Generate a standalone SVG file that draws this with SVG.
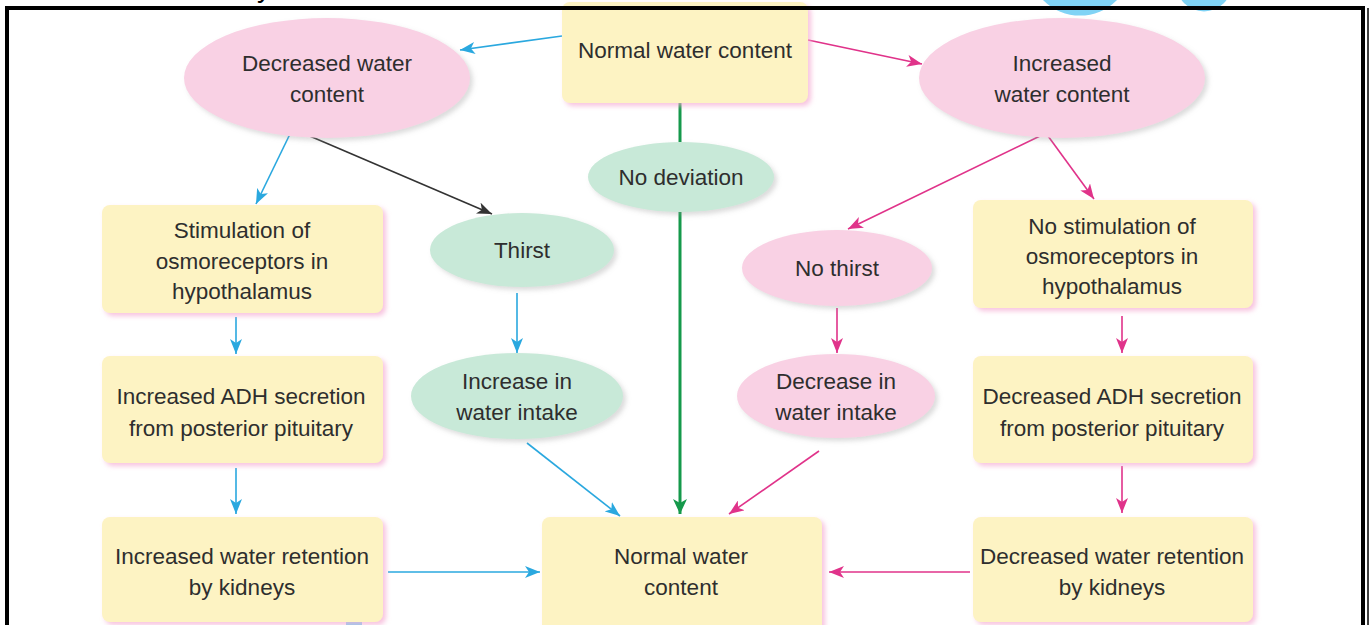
<svg xmlns="http://www.w3.org/2000/svg" width="1370" height="625" viewBox="0 0 1370 625">
<style>
.box{fill:#fdf3c3;filter:url(#ps);}
.pk{fill:#f9d1e4;filter:url(#gs);}
.gr{fill:#c8e9d8;filter:url(#gs);}
text{font-family:"Liberation Sans",Arial,sans-serif;font-size:22.5px;fill:#2e2e2e;text-anchor:middle;}
.c line,.c path{fill:none;stroke-width:1.6;}
.b{stroke:#2aa8df;marker-end:url(#ab);}
.p{stroke:#e0338a;marker-end:url(#ap);}
.k{stroke:#333;marker-end:url(#ak);}
.g{stroke:#15994b;stroke-width:3 !important;}
</style>
<defs>
<filter id="ps" x="-10%" y="-10%" width="125%" height="130%"><feDropShadow dx="3" dy="3" stdDeviation="2.5" flood-color="#f4a9d0" flood-opacity="0.7"/></filter>
<filter id="gs" x="-10%" y="-10%" width="125%" height="130%"><feDropShadow dx="3" dy="3" stdDeviation="2.5" flood-color="#999" flood-opacity="0.35"/></filter>
<marker id="ab" markerUnits="userSpaceOnUse" markerWidth="16" markerHeight="12" refX="15" refY="6" orient="auto"><path d="M0,0 L15,6 L0,12 L4,6 z" fill="#2aa8df"/></marker>
<marker id="ap" markerUnits="userSpaceOnUse" markerWidth="16" markerHeight="12" refX="15" refY="6" orient="auto"><path d="M0,0 L15,6 L0,12 L4,6 z" fill="#e0338a"/></marker>
<marker id="ak" markerUnits="userSpaceOnUse" markerWidth="16" markerHeight="12" refX="15" refY="6" orient="auto"><path d="M0,0 L15,6 L0,12 L4,6 z" fill="#333"/></marker>
<marker id="ag" markerUnits="userSpaceOnUse" markerWidth="16" markerHeight="14" refX="15" refY="7" orient="auto"><path d="M0,0 L15,7 L0,14 L4,7 z" fill="#15994b"/></marker>
</defs>
<rect width="1370" height="625" fill="#fff"/>
<g id="artifacts">
<circle cx="1080" cy="-36" r="51.6" fill="#80d3f5"/>
<circle cx="1204" cy="-16.5" r="27.9" fill="#80d3f5"/>
<text x="264" y="-3" style="font-size:28px;fill:#000">y</text>
<rect x="346" y="622" width="16" height="3" fill="#80d3f5"/>
<rect x="576" y="622" width="24" height="3" fill="#80d3f5"/>
</g>
<g class="c" id="connectors">
<line class="b" x1="562" y1="36" x2="460" y2="50"/>
<line class="p" x1="808" y1="40" x2="922" y2="64"/>
<line class="g" x1="680" y1="103" x2="680" y2="142"/>
<line class="g" x1="680" y1="212" x2="680" y2="514" marker-end="url(#ag)"/>
<line class="b" x1="290" y1="134" x2="256" y2="204"/>
<line class="k" x1="305" y1="134" x2="492" y2="214"/>
<line class="b" x1="236" y1="317" x2="236" y2="354"/>
<line class="b" x1="236" y1="468" x2="236" y2="514"/>
<line class="b" x1="517" y1="293" x2="517" y2="353"/>
<line class="b" x1="527" y1="443" x2="620" y2="516"/>
<line class="b" x1="388" y1="572" x2="540" y2="572"/>
<line class="p" x1="1040" y1="136" x2="848" y2="229"/>
<line class="p" x1="1048" y1="136" x2="1094" y2="199"/>
<line class="p" x1="837" y1="308" x2="837" y2="353"/>
<line class="p" x1="819" y1="451" x2="729" y2="514"/>
<line class="p" x1="1122" y1="316" x2="1122" y2="353"/>
<line class="p" x1="1122" y1="466" x2="1122" y2="513"/>
<line class="p" x1="970" y1="572" x2="829" y2="572"/>
</g>
<g id="n-normal-top"><rect class="box" x="562" y="2" width="246" height="101" rx="8"/><text x="685" y="58">Normal water content</text></g>
<g id="n-decreased"><ellipse class="pk" cx="327" cy="78" rx="143" ry="60"/><text x="327" y="71">Decreased water</text><text x="327" y="102">content</text></g>
<g id="n-increased"><ellipse class="pk" cx="1062" cy="78" rx="143" ry="60"/><text x="1062" y="71">Increased</text><text x="1062" y="102">water content</text></g>
<g id="n-nodev"><ellipse class="gr" cx="681" cy="177" rx="93" ry="35"/><text x="681" y="185">No deviation</text></g>
<g id="n-stim"><rect class="box" x="102" y="205" width="281" height="108" rx="8"/><text x="242" y="238">Stimulation of</text><text x="242" y="269">osmoreceptors in</text><text x="242" y="299">hypothalamus</text></g>
<g id="n-thirst"><ellipse class="gr" cx="522" cy="250" rx="92" ry="37"/><text x="522" y="258">Thirst</text></g>
<g id="n-nothirst"><ellipse class="pk" cx="837" cy="268" rx="95" ry="38"/><text x="837" y="276">No thirst</text></g>
<g id="n-nostim"><rect class="box" x="973" y="200" width="280" height="108" rx="8"/><text x="1112" y="234">No stimulation of</text><text x="1112" y="264">osmoreceptors in</text><text x="1112" y="294">hypothalamus</text></g>
<g id="n-incadh"><rect class="box" x="102" y="356" width="281" height="107" rx="8"/><text x="241" y="404">Increased ADH secretion</text><text x="241" y="436">from posterior pituitary</text></g>
<g id="n-incintake"><ellipse class="gr" cx="517" cy="396" rx="106" ry="43"/><text x="517" y="389">Increase in</text><text x="517" y="420">water intake</text></g>
<g id="n-decintake"><ellipse class="pk" cx="836" cy="396" rx="99" ry="42"/><text x="836" y="389">Decrease in</text><text x="836" y="420">water intake</text></g>
<g id="n-decadh"><rect class="box" x="973" y="356" width="280" height="107" rx="8"/><text x="1112" y="404">Decreased ADH secretion</text><text x="1112" y="436">from posterior pituitary</text></g>
<g id="n-incret"><rect class="box" x="102" y="517" width="281" height="105" rx="8"/><text x="242" y="564">Increased water retention</text><text x="242" y="595">by kidneys</text></g>
<g id="n-normal-bot"><rect class="box" x="542" y="517" width="280" height="120" rx="8"/><text x="681" y="564">Normal water</text><text x="681" y="595">content</text></g>
<g id="n-decret"><rect class="box" x="973" y="517" width="280" height="105" rx="8"/><text x="1112" y="564">Decreased water retention</text><text x="1112" y="595">by kidneys</text></g>
<g id="frame" fill="none" stroke="#000">
<rect x="7" y="8" width="1356" height="640" stroke-width="4"/>
<line x1="1368" y1="8" x2="1368" y2="625" stroke-width="1.5"/>
</g>
</svg>
